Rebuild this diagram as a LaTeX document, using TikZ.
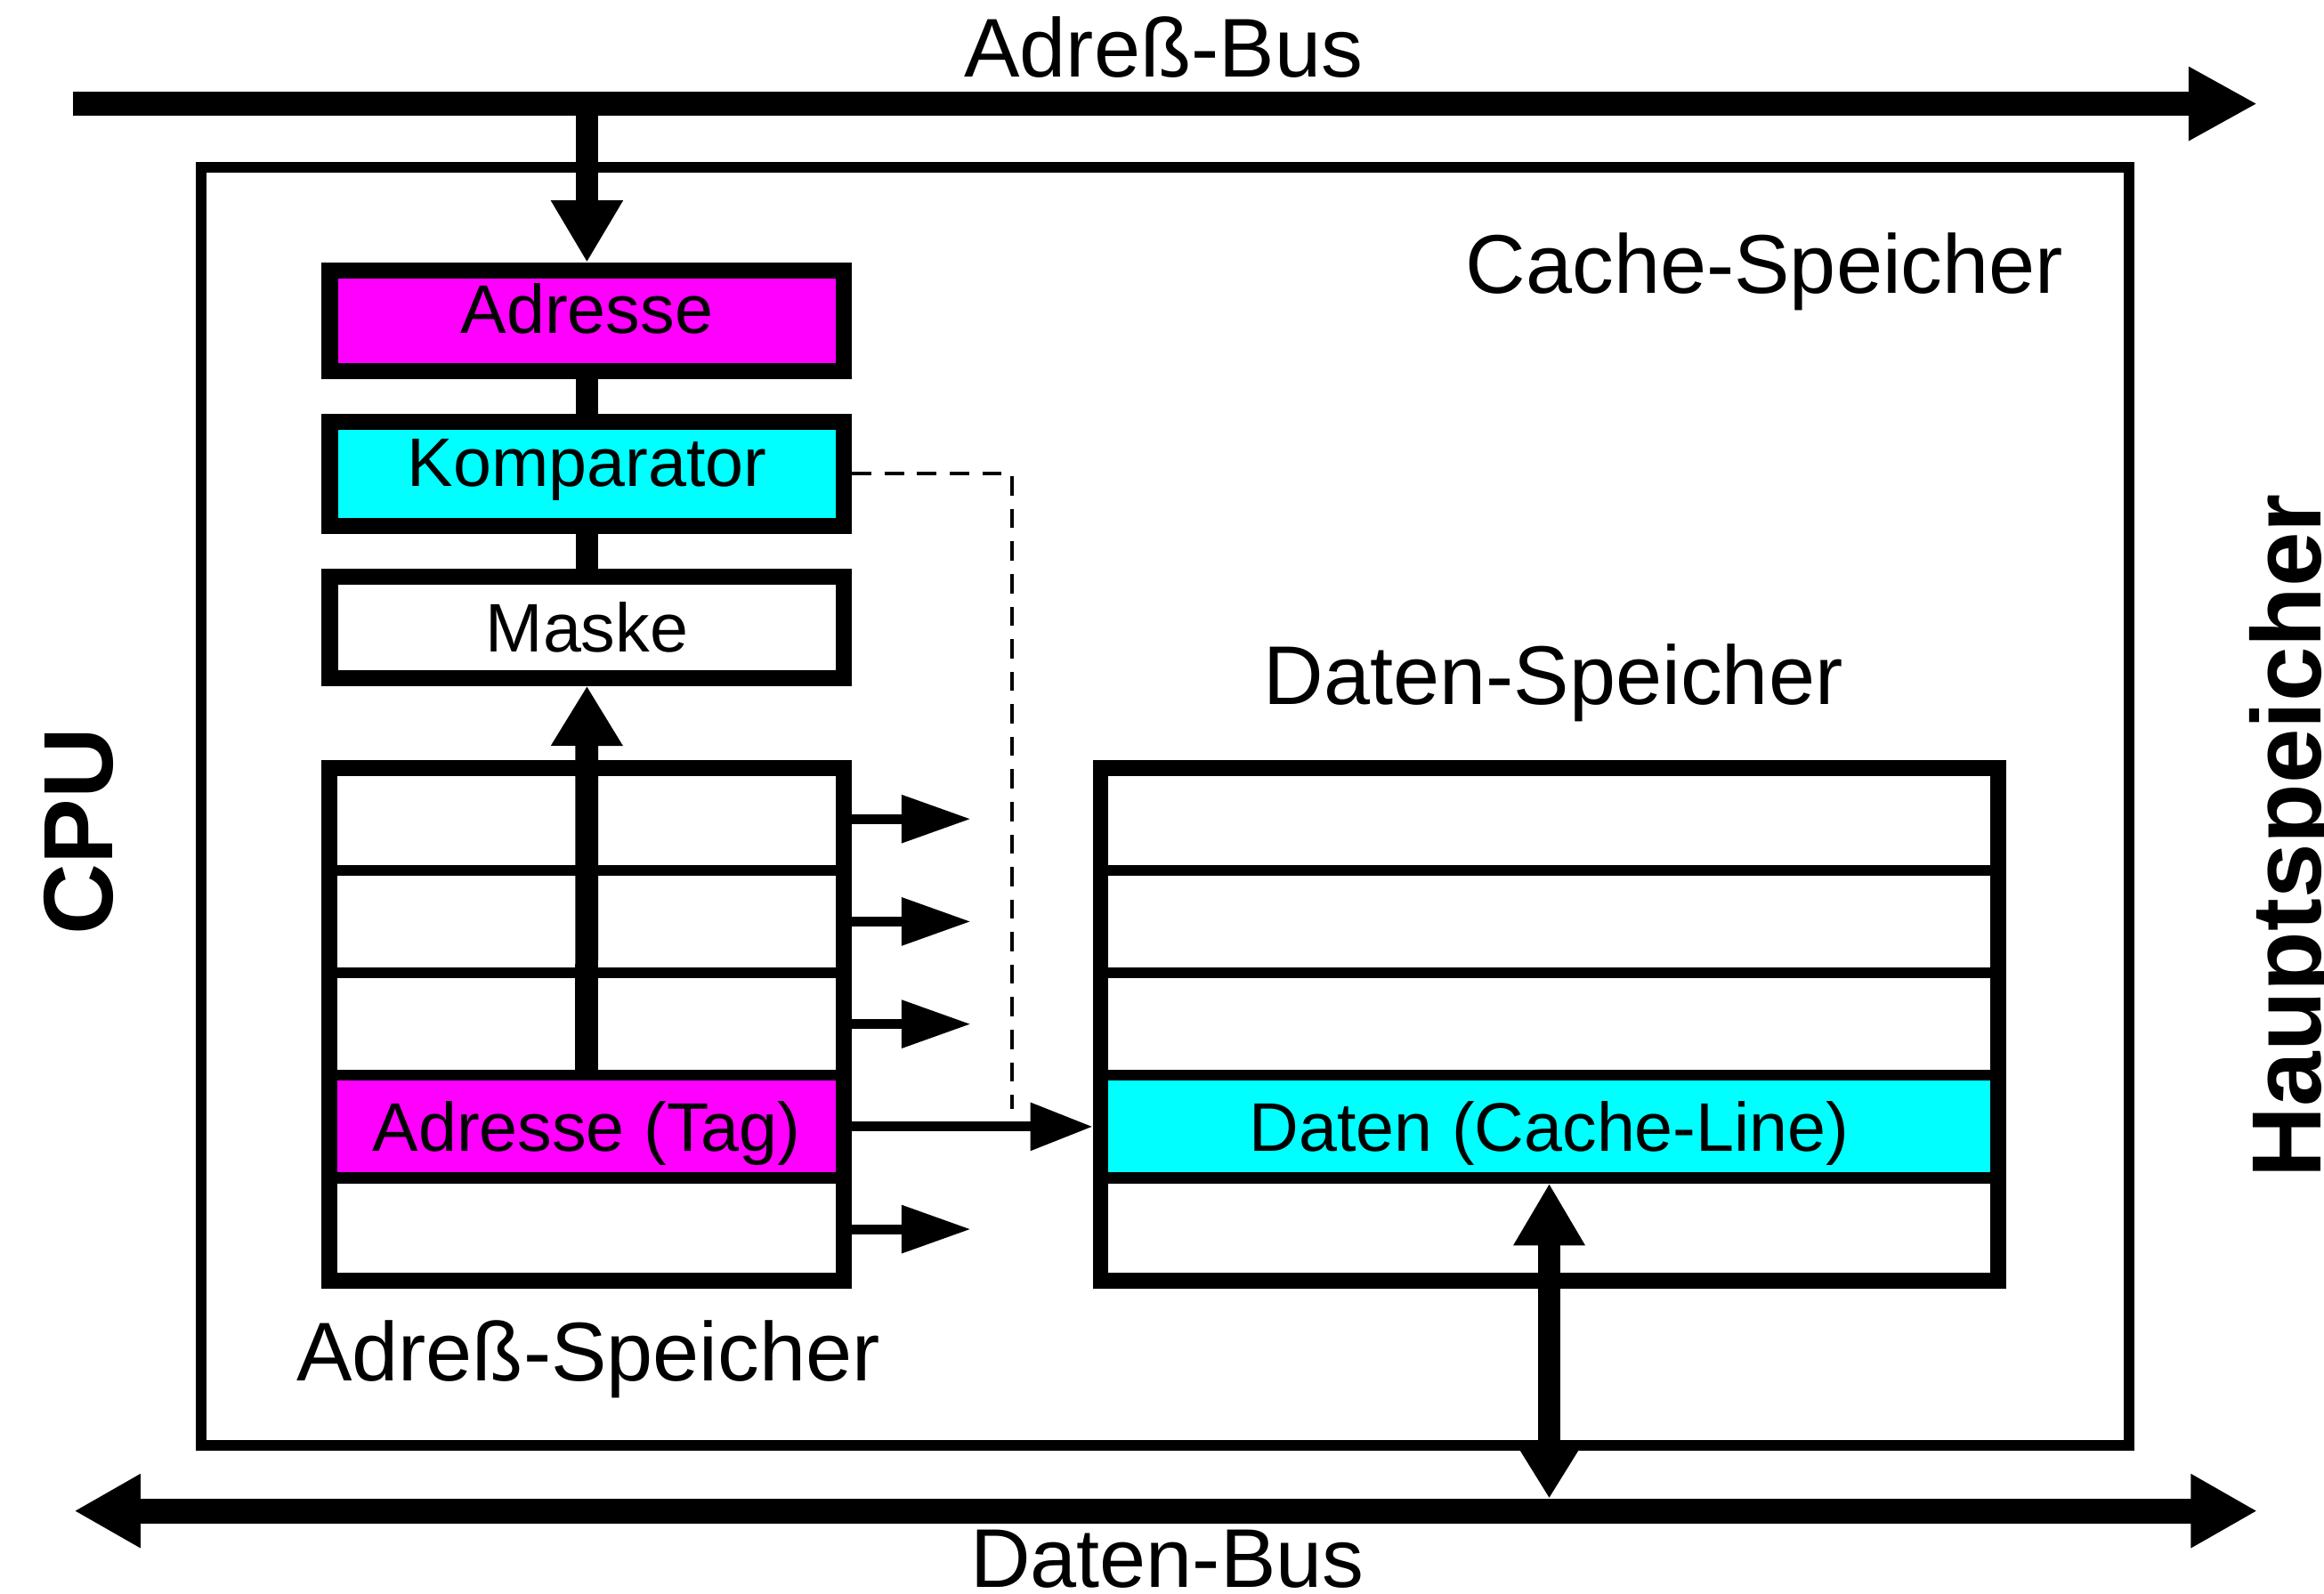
\documentclass[tikz,border=0pt]{standalone}
\usepackage{fontspec}
\setmainfont{Liberation Sans}
\usetikzlibrary{arrows.meta}
\definecolor{tagmag}{HTML}{FF00FF}
\definecolor{linecyan}{HTML}{00FFFF}
\begin{document}
\begin{tikzpicture}[x=0.02cm, y=-0.02cm,
  lbl/.style={font=\fontsize{32}{38}\selectfont, inner sep=0pt, anchor=base},
  side/.style={font=\bfseries\fontsize{37.8}{44}\selectfont, inner sep=0pt, anchor=base, rotate=90},
  unitbox/.style={draw, line width=6.2pt, minimum width=6.94cm, inner sep=0pt,
    font=\fontsize{26.4}{30}\selectfont, text height=18.9pt, text depth=0pt},
  raised/.style={text depth=9.5pt},
  row/.style={draw, line width=4.2pt, inner sep=0pt, outer sep=0pt, minimum height=1.384cm,
    font=\fontsize{26.4}{30}\selectfont, text height=18.9pt, text depth=0pt},
  tagrow/.style={row, minimum width=6.95cm},
  datarow/.style={row, minimum width=12.11cm},
  frame/.style={draw, line width=6.1pt},
  bus/.style={line width=9.4pt},
  thickline/.style={line width=8.8pt},
  thinarrow/.style={line width=3.8pt, -{Triangle[length=26.6pt, width=17.6pt]}},
  dashline/.style={line width=1.4pt, dash pattern=on 7.4pt off 5.1pt}
]
\useasboundingbox (0,0) rectangle (1568,1075);
\fill[white] (0,0) rectangle (1568,1075);

% outer cache frame
\node[draw, line width=4pt, minimum width=26.02cm, minimum height=17.25cm, inner sep=0pt] (cache) at (786,544.25) {};

% address path: register, comparator, mask
\node[unitbox, raised, fill=tagmag, minimum height=1.36cm] (adresse) at (396,216.5) {Adresse};
\node[unitbox, raised, fill=linecyan, minimum height=1.40cm] (komp) at (396,319.7) {Komparator};
\node[unitbox, fill=white, minimum height=1.368cm] (maske) at (396,423.2) {Maske};
\draw[thickline] (adresse.south) -- (komp.north);
\draw[thickline] (komp.south) -- (maske.north);

% tag memory rows
\node[tagrow] (a1) at (395.75,552.6) {};
\node[tagrow] (a2) at (395.75,621.8) {};
\node[tagrow] (a3) at (395.75,691.0) {};
\node[tagrow, fill=tagmag] (a4) at (395.75,760.2) {Adresse (Tag)};
\node[tagrow] (a5) at (395.75,829.4) {};
\draw[frame] (a1.north west) rectangle (a5.south east);

% data memory rows
\node[datarow] (d1) at (1045.25,552.6) {};
\node[datarow] (d2) at (1045.25,621.8) {};
\node[datarow] (d3) at (1045.25,691.0) {};
\node[datarow, fill=linecyan] (d4) at (1045.25,760.2) {Daten (Cache-Line)};
\node[datarow] (d5) at (1045.25,829.4) {};
\draw[frame] (d1.north west) rectangle (d5.south east);

% bus end points
\coordinate (ab0) at (49,70);
\coordinate (ab1) at (1523,70);
\coordinate (abtap) at (396,70);
\coordinate (db0) at (50,1019.5);
\coordinate (db1) at (1523,1019.5);
\coordinate (dtap) at (1045.25,1011);

% address bus and its branch into the cache
\draw[bus, -{Triangle[length=26.4pt, width=26.6pt]}] (ab0) -- (ab1);
\draw[thickline, -{Triangle[length=23.8pt, width=26pt]}] (abtap) -- (adresse.north);

% data bus and its branch to the cache line
\draw[line width=9.6pt, {Triangle[length=25.5pt, width=26.6pt]}-{Triangle[length=25.5pt, width=26.6pt]}] (db0) -- (db1);
\draw[thickline, {Triangle[length=19.8pt, width=22.7pt]}-{Triangle[length=23.8pt, width=25.8pt]}, shorten >=2.1pt] (dtap) -- (d4.south);

% tag to mask
\draw[thickline, -{Triangle[length=23pt, width=26pt]}] (a4.north) -- (maske.south);

% outputs of the tag rows
\coordinate (s1) at (655,552.6);
\coordinate (s2) at (655,621.8);
\coordinate (s3) at (655,691.0);
\coordinate (s5) at (655,829.4);
\draw[thinarrow] (a1.east) -- (s1);
\draw[thinarrow] (a2.east) -- (s2);
\draw[thinarrow] (a3.east) -- (s3);
\draw[thinarrow] (a5.east) -- (s5);
\draw[line width=3.8pt, -{Triangle[length=24pt, width=17.6pt]}, shorten >=3pt] (a4.east) -- (d4.west);

% comparator hit signal
\coordinate (hitend) at (683,748);
\draw[dashline] (komp.east) -| (hitend);

% labels
\node[lbl] (abus) at (785,52) {Adreß-Bus};
\node[lbl] (cachelbl) at (1190.5,198) {Cache-Speicher};
\node[lbl] (dslbl) at (1048,475.5) {Daten-Speicher};
\node[lbl] (aslbl) at (397,932) {Adreß-Speicher};
\node[lbl] (dbus) at (787.5,1071) {Daten-Bus};
\node[side] (cpu) at (76,561) {CPU};
\node[side] (haupt) at (1566,564) {Hauptspeicher};
\end{tikzpicture}
\end{document}
